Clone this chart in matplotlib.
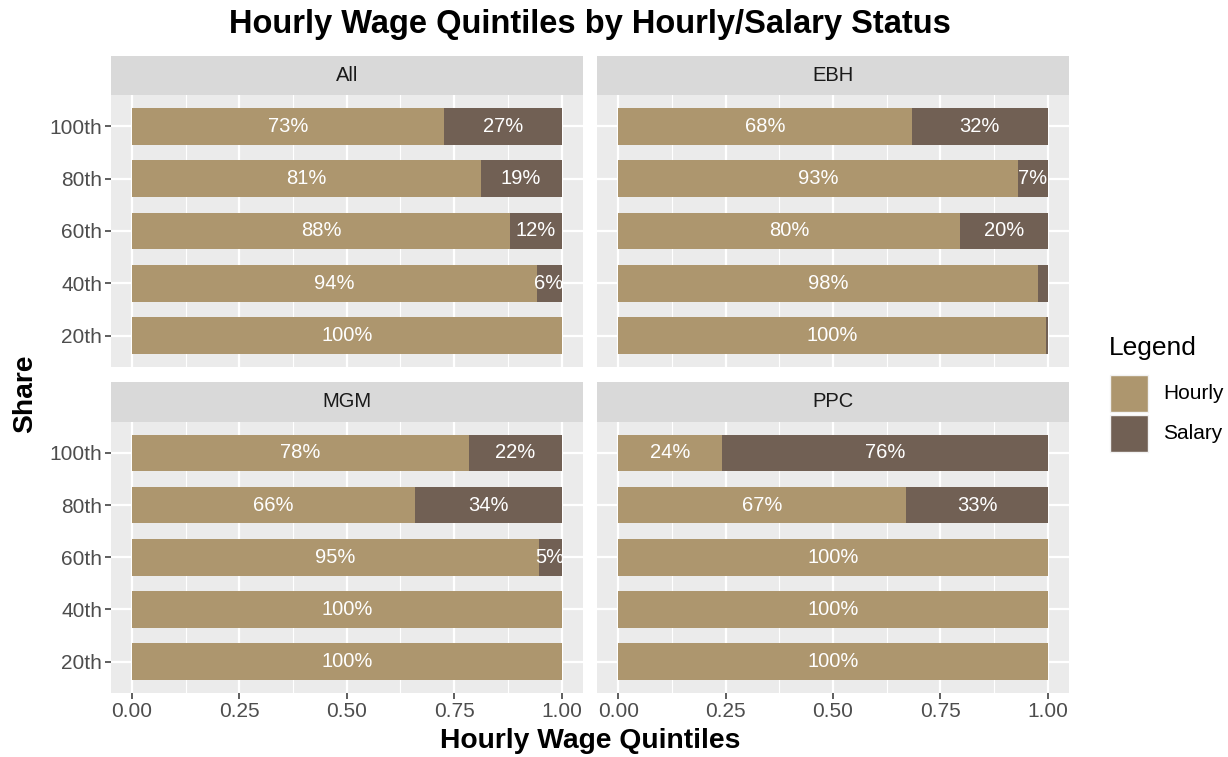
import matplotlib
matplotlib.use("Agg")
import matplotlib.pyplot as plt
from matplotlib.patches import Rectangle

plt.rcParams["font.family"] = ["Liberation Sans", "DejaVu Sans"]

# data
quintiles = ["20th", "40th", "60th", "80th", "100th"]
panels = ["All", "EBH", "MGM", "PPC"]
hourly_all = [1.00, 0.942, 0.881, 0.812, 0.726]
hourly_ebh = [0.996, 0.977, 0.797, 0.932, 0.683]
hourly_mgm = [1.00, 1.00, 0.947, 0.658, 0.784]
hourly_ppc = [1.00, 1.00, 1.00, 0.671, 0.242]
hourly = {"All": hourly_all, "EBH": hourly_ebh, "MGM": hourly_mgm, "PPC": hourly_ppc}

C_HOURLY = "#AD966E"
C_SALARY = "#716054"
PANEL_BG = "#EBEBEB"
STRIP_BG = "#D9D9D9"
TICK_C = "#4D4D4D"

W, H = 1228, 757
fig = plt.figure(figsize=(W / 100, H / 100), dpi=100)


def box(x0, y0, x1, y1):
    return [x0 / W, 1 - y1 / H, (x1 - x0) / W, (y1 - y0) / H]


cols = [(110.5, 583), (597, 1069)]
rows = [(56, 95, 367), (382, 421.5, 693)]

for i, name in enumerate(panels):
    r, c = divmod(i, 2)
    x0, x1 = cols[c]
    s0, p0, p1 = rows[r]
    ax = fig.add_axes(box(x0, p0, x1, p1))
    ax.set_facecolor(PANEL_BG)
    for sp in ax.spines.values():
        sp.set_visible(False)

    hv = hourly[name]
    sv = [1 - v for v in hv]
    ypos = list(range(len(quintiles)))
    ax.barh(ypos, hv, height=0.7, color=C_HOURLY, zorder=3)
    ax.barh(ypos, sv, left=hv, height=0.7, color=C_SALARY, zorder=3)
    for y, h, s in zip(ypos, hv, sv):
        if h >= 0.03:
            ax.text(h / 2, y, f"{h*100:.0f}%", ha="center", va="center",
                    color="white", fontsize=14.5, zorder=4)
        if s >= 0.03:
            ax.text(h + s / 2, y, f"{s*100:.0f}%", ha="center", va="center",
                    color="white", fontsize=14.5, zorder=4)

    ax.set_xlim(-0.05, 1.05)
    ax.set_ylim(-0.6, len(quintiles) - 0.4)
    ax.set_xticks([0, 0.25, 0.5, 0.75, 1.0])
    ax.set_xticks([0.125, 0.375, 0.625, 0.875], minor=True)
    ax.set_yticks(ypos)
    ax.grid(True, which="major", color="white", linewidth=1.6, zorder=0)
    ax.grid(True, which="minor", axis="x", color="white", linewidth=0.8, zorder=0)
    ax.set_axisbelow(True)
    ax.tick_params(which="minor", length=0)
    ax.tick_params(which="major", length=4, width=1.1, color="#333333",
                   labelcolor=TICK_C, labelsize=15)
    ax.tick_params(axis="x", pad=2.5)
    ax.tick_params(axis="y", pad=2)
    if r == 1:
        ax.set_xticklabels(["0.00", "0.25", "0.50", "0.75", "1.00"])
    else:
        ax.tick_params(axis="x", length=0, labelbottom=False)
    if c == 0:
        ax.set_yticklabels(quintiles)
    else:
        ax.tick_params(axis="y", length=0, labelleft=False)

    sax = fig.add_axes(box(x0, s0, x1, p0))
    sax.set_facecolor(STRIP_BG)
    sax.set_xticks([])
    sax.set_yticks([])
    for sp in sax.spines.values():
        sp.set_visible(False)
    sax.text(0.5, 0.5, name, ha="center", va="center", fontsize=14.5,
             color="#1A1A1A", transform=sax.transAxes)

fig.text(590 / W, 1 - 24 / H, "Hourly Wage Quintiles by Hourly/Salary Status",
         ha="center", va="center", fontsize=23.5, fontweight="bold")
fig.text(590 / W, 1 - 741 / H, "Hourly Wage Quintiles", ha="center", va="center",
         fontsize=20.3, fontweight="bold")
fig.text(25 / W, 1 - 394 / H, "Share", ha="center", va="center", rotation=90,
         fontsize=20.3, fontweight="bold")

# legend
fig.text(1109 / W, 1 - 348 / H, "Legend", ha="left", va="center", fontsize=19)
for j, (lab, col) in enumerate([("Hourly", C_HOURLY), ("Salary", C_SALARY)]):
    top = 375 + j * 40
    fig.add_artist(Rectangle((1110 / W, 1 - (top + 37) / H), 38 / W, 37 / H,
                             transform=fig.transFigure, facecolor=col,
                             edgecolor="#F2F2F2", linewidth=1))
    fig.text(1163 / W, 1 - (top + 18.5) / H, lab, ha="left", va="center",
             fontsize=15, color="black")

fig.savefig("out.png", dpi=100)
